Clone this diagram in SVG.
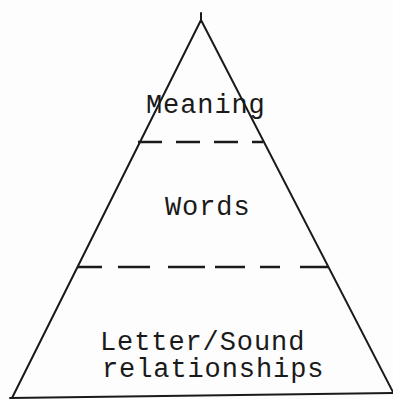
<svg xmlns="http://www.w3.org/2000/svg" width="393" height="399" viewBox="0 0 393 399">
<style>
.edge{fill:none;stroke:#1a1a1a;stroke-width:2;stroke-linecap:round;stroke-linejoin:round}
.dash{fill:none;stroke:#1a1a1a;stroke-width:2.5;stroke-linecap:butt}
.lbl{font-family:"Liberation Mono","Courier New",monospace;font-size:27px;letter-spacing:0.9px;fill:#1a1a1a}
</style>
<rect width="393" height="399" fill="#fdfdfd"/>
<g id="pyramid">
<path class="edge" d="M12,398 L201,20 L395,396"/>
<path class="edge" d="M201,13 L201,22"/>
<path class="edge" d="M10,398 L393,393" stroke-width="2.5"/>
</g>
<g id="connectors">
<path class="dash" d="M138,142 H162 M176,142 H200 M214,142 H238 M252,142 H263"/>
<path class="dash" d="M78,267 H102 M118,267 H150 M168,267 H205 M215,267 H245 M260,267 H280 M300,267 H328"/>
</g>
<g id="meaning"><text class="lbl" x="146" y="113">Meaning</text></g>
<g id="words"><text class="lbl" x="165" y="215">Words</text></g>
<g id="letter-sound">
<text class="lbl"><tspan x="100" y="350">Letter/Sound</tspan><tspan x="102" y="377">relationships</tspan></text>
</g>
</svg>
